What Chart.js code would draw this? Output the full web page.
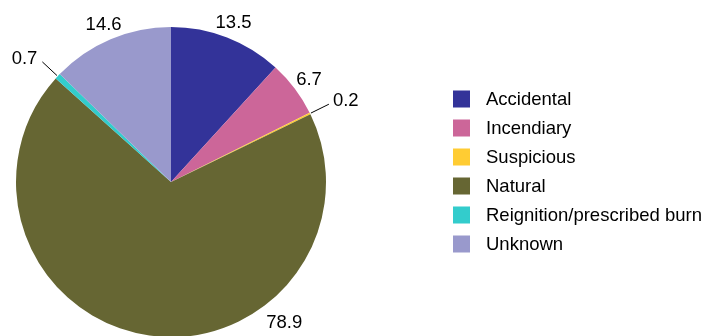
<!DOCTYPE html>
<html>
<head>
<meta charset="utf-8">
<script src="https://cdn.jsdelivr.net/npm/chart.js@4"></script>
<style>
  html, body { margin: 0; padding: 0; background: #fff; overflow: hidden; }
  #wrap { position: relative; width: 705px; height: 340px; }
</style>
</head>
<body>
<div id="wrap"><canvas id="cause-pie"></canvas></div>
<script>
// --- Data ---
const categories = ['Accidental', 'Incendiary', 'Suspicious', 'Natural', 'Reignition/prescribed burn', 'Unknown'];
const values = [13.5, 6.7, 0.2, 78.9, 0.7, 14.6];
const colors = ['#333399', '#CC6699', '#FFCC33', '#666633', '#33CCCC', '#9999CC'];

const FONT = '18.5px "Liberation Sans", Arial, sans-serif';

// Value labels around the pie; tiny slices get a leader line
const sliceLabels = {
    id: 'sliceLabels',
    afterDatasetsDraw(chart) {
        const ctx = chart.ctx;
        const meta = chart.getDatasetMeta(0);
        ctx.save();
        ctx.font = FONT;
        ctx.fillStyle = '#000';
        ctx.strokeStyle = '#000';
        ctx.lineWidth = 1;
        ctx.textBaseline = 'middle';
        meta.data.forEach(function (arc, i) {
            const p = arc.getProps(['x', 'y', 'startAngle', 'endAngle', 'outerRadius'], true);
            let a = (p.startAngle + p.endAngle) / 2;
            const r = p.outerRadius;
            const txt = String(values[i]);
            if (values[i] < 1) {
                const c = Math.cos(a), s = Math.sin(a);
                const x1 = p.x + c * (r + 1), y1 = p.y + s * (r + 1);
                const x2 = p.x + c * (r + 21), y2 = p.y + s * (r + 21);
                ctx.beginPath();
                ctx.moveTo(x1, y1);
                ctx.lineTo(x2, y2);
                ctx.stroke();
                if (c >= 0) {
                    ctx.textAlign = 'left';
                    ctx.fillText(txt, x2 + 4, y2 - 3);
                } else {
                    ctx.textAlign = 'right';
                    ctx.fillText(txt, x2 - 5, y2 - 3);
                }
                return;
            }
            let d = r + 18;
            // slide the label round the circle if it would fall off the bottom
            if (p.y + Math.sin(a) * d > 321) {
                d = r + 24;
                let guard = 0;
                while (p.y + Math.sin(a) * d > 321 && guard < 400) {
                    a -= 0.005;
                    guard++;
                }
            }
            ctx.textAlign = 'center';
            ctx.fillText(txt, p.x + Math.cos(a) * d, p.y + Math.sin(a) * d + 2.5);
        });
        ctx.restore();
    }
};

// Legend on the right, drawn from the same arrays
const sideLegend = {
    id: 'sideLegend',
    afterDraw(chart) {
        const ctx = chart.ctx;
        ctx.save();
        ctx.font = FONT;
        ctx.textAlign = 'left';
        ctx.textBaseline = 'middle';
        categories.forEach(function (name, i) {
            const y = 99 + i * 29;
            ctx.fillStyle = colors[i];
            ctx.fillRect(453, y - 8.5, 17, 17);
            ctx.fillStyle = '#000';
            ctx.fillText(name, 486, y + 1);
        });
        ctx.restore();
    }
};

new Chart(document.getElementById('cause-pie'), {
    type: 'pie',
    data: {
        labels: categories,
        datasets: [{
            data: values,
            backgroundColor: colors,
            borderWidth: 0
        }]
    },
    options: {
        responsive: true,
        maintainAspectRatio: false,
        animation: false,
        layout: { padding: { top: 27, bottom: 3, left: 16, right: 379 } },
        plugins: {
            legend: { display: false },
            tooltip: { enabled: false }
        }
    },
    plugins: [sliceLabels, sideLegend]
});
</script>
</body>
</html>
